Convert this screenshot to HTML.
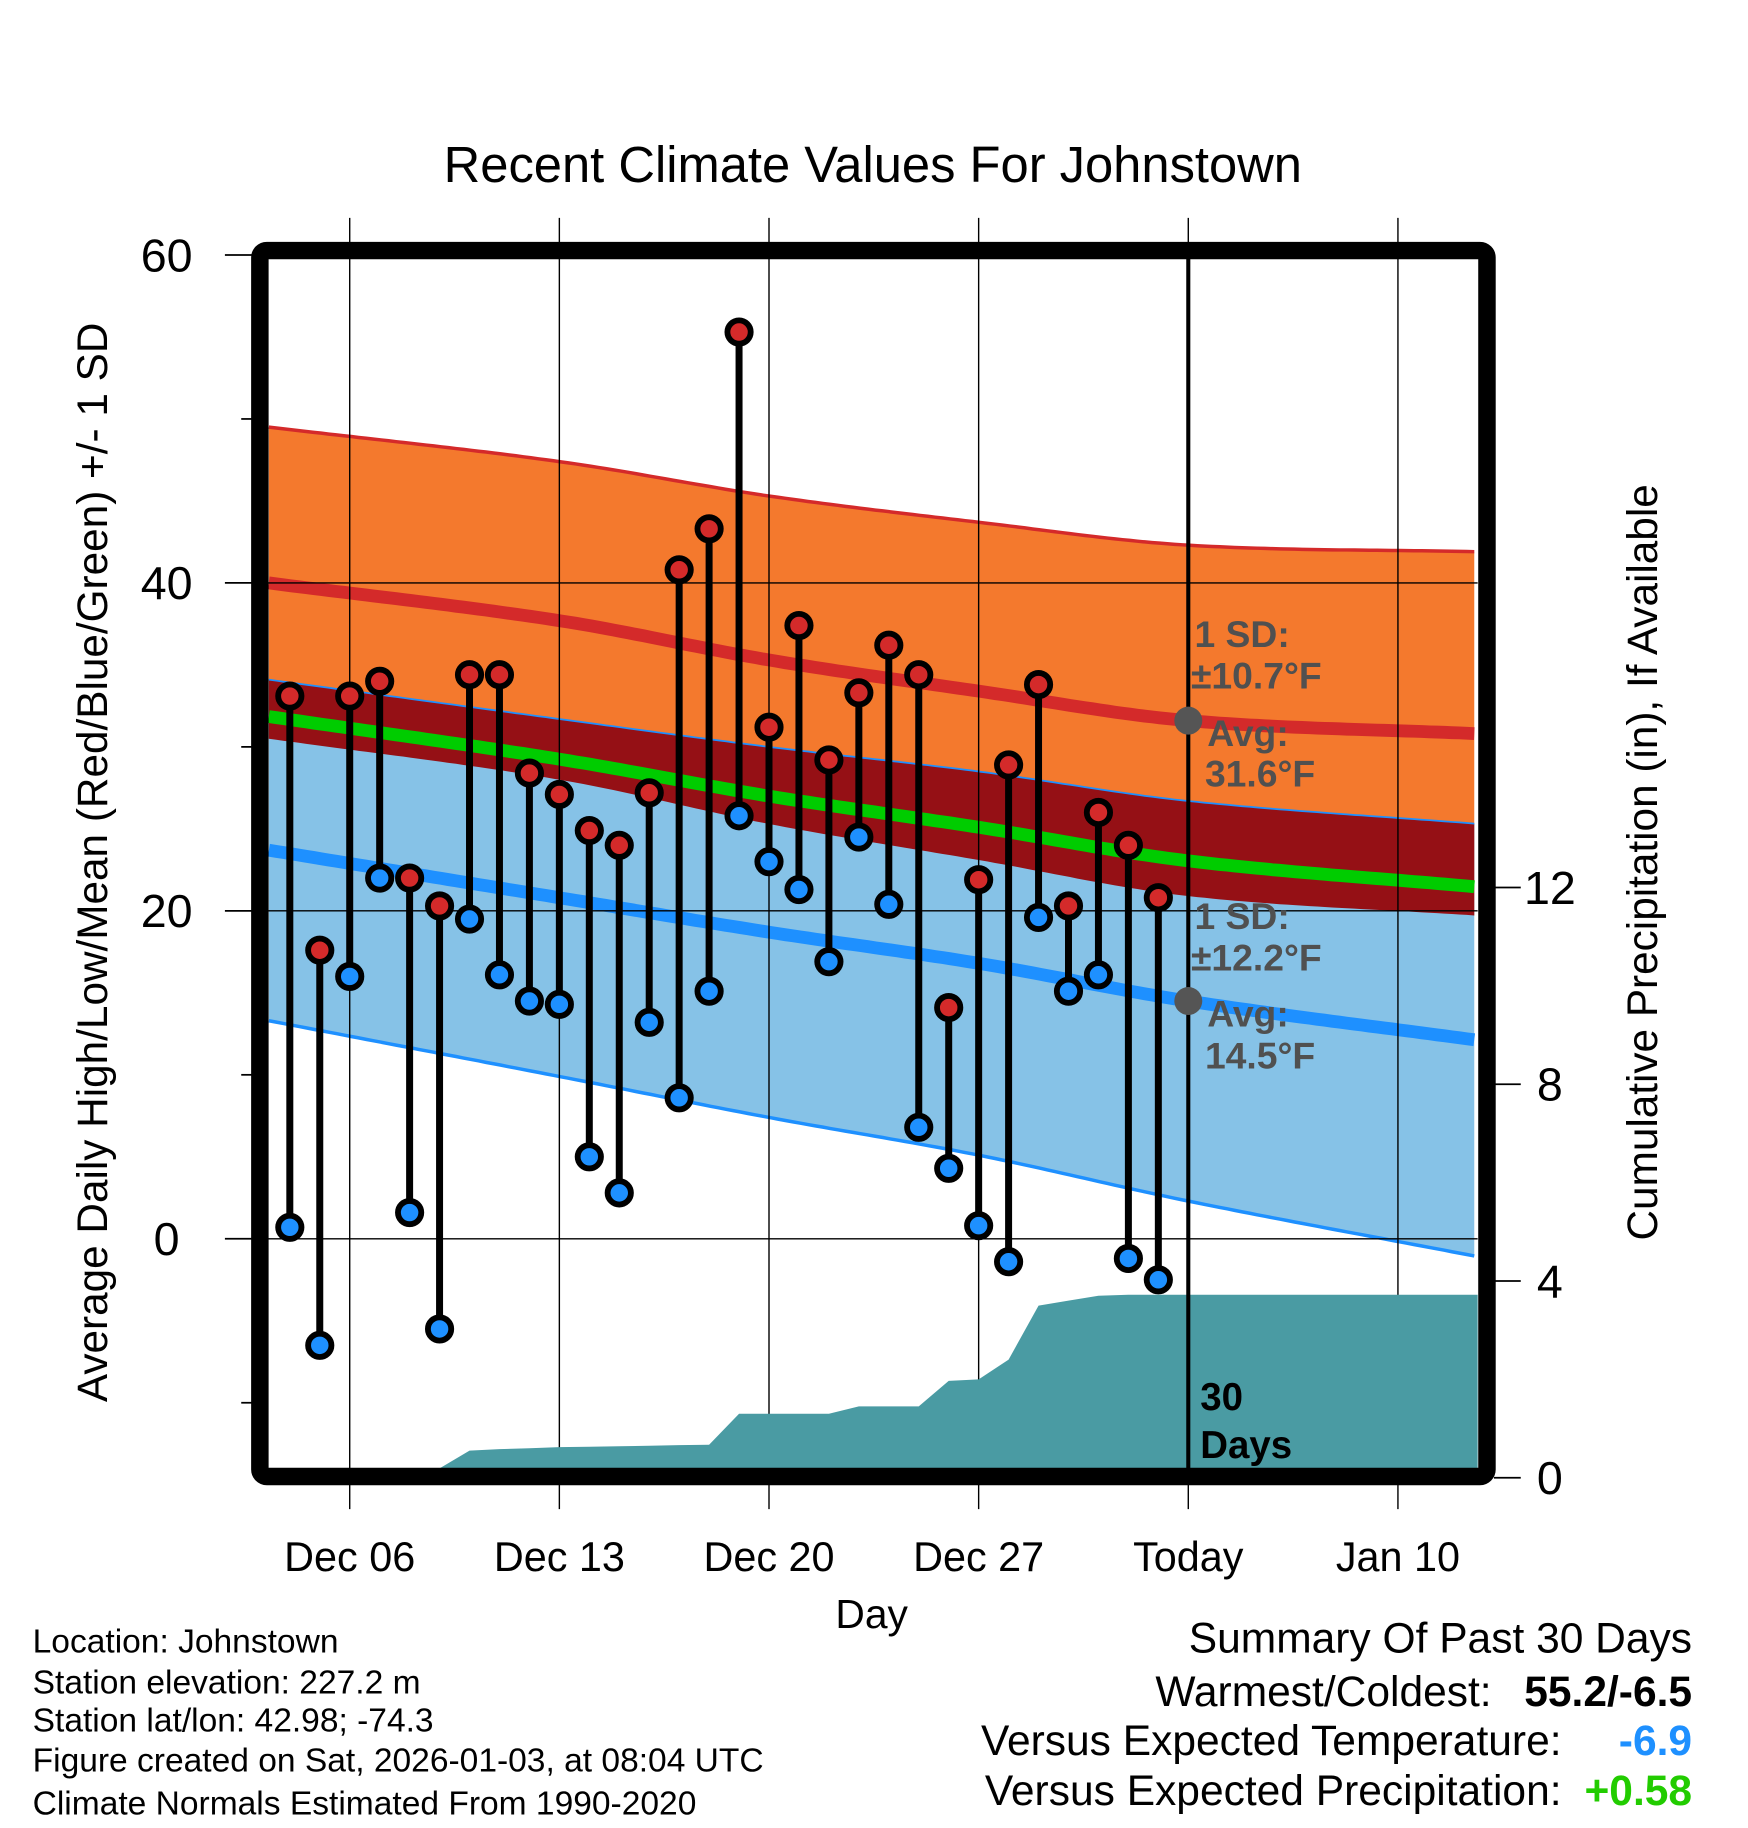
<!DOCTYPE html>
<html><head><meta charset="utf-8"><style>
html,body{margin:0;padding:0;background:#fff;}
svg{display:block;font-family:"Liberation Sans",Arial,sans-serif;}
</style></head><body>
<svg id="chart" width="1748" height="1828" viewBox="0 0 1500 1568.6" preserveAspectRatio="none" xmlns="http://www.w3.org/2000/svg">
<text x="749" y="156" font-size="43.5" text-anchor="middle">Recent Climate Values For Johnstown</text>
<g id="bands"></g>
<g id="grid"></g>
<g id="precip"></g>
<g id="marks"></g>
<g id="ticks"></g>
<text x="748" y="1397" font-size="35" text-anchor="middle">Day</text>
<text transform="translate(92,740) rotate(-90)" font-size="36.3" text-anchor="middle">Average Daily High/Low/Mean (Red/Blue/Green) +/- 1 SD</text>
<text transform="translate(1422,740) rotate(-90)" font-size="36.3" text-anchor="middle">Cumulative Precipitation (in), If Available</text>
<g font-size="28.8">
<text x="28" y="1418">Location: Johnstown</text>
<text x="28" y="1453">Station elevation: 227.2 m</text>
<text x="28" y="1486">Station lat/lon: 42.98; -74.3</text>
<text x="28" y="1520">Figure created on Sat, 2026-01-03, at 08:04 UTC</text>
<text x="28" y="1557">Climate Normals Estimated From 1990-2020</text>
</g>
<g font-size="36.5">
<text x="1452" y="1418" text-anchor="end">Summary Of Past 30 Days</text>
<text x="1280" y="1464" text-anchor="end">Warmest/Coldest:</text>
<text x="1452" y="1464" text-anchor="end" font-weight="bold">55.2/-6.5</text>
<text x="1340" y="1506" text-anchor="end">Versus Expected Temperature:</text>
<text x="1452" y="1506" text-anchor="end" font-weight="bold" fill="#1e90ff">-6.9</text>
<text x="1340" y="1549" text-anchor="end">Versus Expected Precipitation:</text>
<text x="1452" y="1549" text-anchor="end" font-weight="bold" fill="#22cc00">+0.58</text>
</g>
</svg>
<script>
// ---- data ----
const days = [1,2,3,4,5,6,7,8,9,10,11,12,13,14,15,16,17,18,19,20,21,22,23,24,25,26,27,28,29,30];
const highs = [33.1,17.6,33.1,34.0,22.0,20.3,34.4,34.4,28.4,27.1,24.9,24.0,27.2,40.8,43.3,55.3,31.2,37.4,29.2,33.3,36.2,34.4,14.1,21.9,28.9,33.8,20.3,26.0,24.0,20.8];
const lows = [0.7,-6.5,16.0,22.0,1.6,-5.5,19.5,16.1,14.5,14.3,5.0,2.8,13.2,8.6,15.1,25.8,23.0,21.3,16.9,24.5,20.4,6.8,4.3,0.8,-1.4,19.6,15.1,16.1,-1.2,-2.5];
const precip = [0,0,0,0,0,0,0.55,0.58,0.6,0.62,0.63,0.64,0.65,0.66,0.67,1.3,1.3,1.3,1.3,1.45,1.45,1.45,1.97,2.0,2.4,3.5,3.6,3.7,3.72,3.72];
const normalDays = [0.3,10,17,24,31,40.7];
const highMean = [40.0,37.7,35.3,33.4,31.6,30.8];
const highSD = [9.5,9.7,10.0,10.3,10.7,11.1];
const lowMean = [23.7,20.8,18.7,16.8,14.5,12.1];
const lowSD = [10.4,10.9,11.3,11.7,12.2,13.2];
const xTickDays = [3,10,17,24,31,38];
const xTickLabels = ["Dec 06","Dec 13","Dec 20","Dec 27","Today","Jan 10"];
const yTicks = [0,20,40,60];
const yMinor = [-10,10,30,50];
const pTicks = [0,4,8,12];
// ---- axes ----
const X0=223, XS=25.7, L=230, R=1268, T=222, B=1260;
const x = t => X0 + XS*t;
const y = v => 1063 - 14.07*v;
const yp = p => 1268 - 42.2*p;
const NS="http://www.w3.org/2000/svg";
function mk(tag, parent, attrs){const e=document.createElementNS(NS,tag);for(const k in attrs)e.setAttribute(k,attrs[k]);parent.appendChild(e);return e;}
function interp(arr,t){ // Catmull-Rom (non-uniform) through read points
  const n=normalDays.length;
  if(t<=normalDays[0])return arr[0];
  if(t>=normalDays[n-1])return arr[n-1];
  let i=0;while(t>normalDays[i+1])i++;
  const x0=normalDays[i],x1=normalDays[i+1],h=x1-x0,u=(t-x0)/h;
  const slope=k=>{
    if(k===0)return (arr[1]-arr[0])/(normalDays[1]-normalDays[0]);
    if(k===n-1)return (arr[n-1]-arr[n-2])/(normalDays[n-1]-normalDays[n-2]);
    return (arr[k+1]-arr[k-1])/(normalDays[k+1]-normalDays[k-1]);
  };
  const m0=slope(i)*h,m1=slope(i+1)*h;
  const u2=u*u,u3=u2*u;
  return (2*u3-3*u2+1)*arr[i]+(u3-2*u2+u)*m0+(-2*u3+3*u2)*arr[i+1]+(u3-u2)*m1;
}
const ts=[];for(let t=normalDays[0];t<=normalDays[normalDays.length-1]+0.001;t+=0.25)ts.push(Math.min(t,normalDays[normalDays.length-1]));
const f = fn => ts.map(t=>[x(t),y(fn(t))]);
const hm=t=>interp(highMean,t), hs=t=>interp(highSD,t), lm=t=>interp(lowMean,t), ls=t=>interp(lowSD,t);
const hiUp=f(t=>hm(t)+hs(t)), hiLo=f(t=>hm(t)-hs(t)), loUp=f(t=>lm(t)+ls(t)), loLo=f(t=>lm(t)-ls(t));
const pstr = pts => pts.map((p,i)=>(i?'L':'M')+p[0].toFixed(1)+','+p[1].toFixed(1)).join('');
const poly = (a,b) => pstr(a)+pstr(b.slice().reverse()).replace('M','L')+'Z';
const bands=document.getElementById('bands');
let e;
e=mk('path',bands,{d:poly(hiUp,hiLo),fill:'#f4792d'});


e=mk('path',bands,{d:poly(loUp,loLo),fill:'#86c2e7'});


e=mk('path',bands,{d:poly(loUp,hiLo),fill:'#951015'});


e=mk('path',bands,{d:pstr(hiUp),fill:'none',stroke:'#d42a2a','stroke-width':3});


e=mk('path',bands,{d:pstr(loLo),fill:'none',stroke:'#1e90ff','stroke-width':3});


e=mk('path',bands,{d:pstr(loUp),fill:'none',stroke:'#1e90ff','stroke-width':1.5});


e=mk('path',bands,{d:pstr(f(hm)),fill:'none',stroke:'#d42a2a','stroke-width':11});


e=mk('path',bands,{d:pstr(f(lm)),fill:'none',stroke:'#1e90ff','stroke-width':11});


e=mk('path',bands,{d:pstr(f(t=>(hm(t)+lm(t))/2)),fill:'none',stroke:'#00cc00','stroke-width':11});


// grid
const grid=document.getElementById('grid');
xTickDays.forEach((d,i)=>{
  e=mk('line',grid,{x1:x(d),x2:x(d),y1:187,y2:1295,stroke:'#000','stroke-width':1.2});
  
  
  e=mk('text',grid,{x:x(d),y:1348,'font-size':35.5,'text-anchor':'middle'});e.textContent=xTickLabels[i];
  
  
});
yTicks.forEach(v=>{
  if(v<60){e=mk('line',grid,{x1:L,x2:R,y1:y(v),y2:y(v),stroke:'#000','stroke-width':1.2});
  
  }
  e=mk('line',grid,{x1:193,x2:218,y1:y(v),y2:y(v),stroke:'#000','stroke-width':1.5});
  
  
  e=mk('text',grid,{x:143,y:y(v)+14,'font-size':40,'text-anchor':'middle'});e.textContent=v;
  
  
});
yMinor.forEach(v=>{
  e=mk('line',grid,{x1:207,x2:218,y1:y(v),y2:y(v),stroke:'#000','stroke-width':1.5});
  
  
});
pTicks.forEach(p=>{
  e=mk('line',grid,{x1:1282,x2:1305,y1:yp(p),y2:yp(p),stroke:'#000','stroke-width':1.5});
  
  
  e=mk('text',grid,{x:1330,y:yp(p)+14,'font-size':40,'text-anchor':'middle'});e.textContent=p;
  
  
});
// precip area
const pg=document.getElementById('precip');
let pd='M'+L+','+B;
days.forEach((d,i)=>{pd+='L'+x(d).toFixed(1)+','+Math.min(B,yp(precip[i])).toFixed(1);});
pd+='L'+R+','+yp(precip[precip.length-1]).toFixed(1)+'L'+R+','+B+'Z';
e=mk('path',pg,{d:pd,fill:'#4a9ba3'});


// today line
e=mk('line',pg,{x1:x(31),x2:x(31),y1:T,y2:B,stroke:'#000','stroke-width':3.5});


// marks
const mg=document.getElementById('marks');
days.forEach((d,i)=>{
  e=mk('line',mg,{x1:x(d),x2:x(d),y1:y(highs[i]),y2:y(lows[i]),stroke:'#000','stroke-width':6});
  
  
});
days.forEach((d,i)=>{
  e=mk('circle',mg,{cx:x(d),cy:y(highs[i]),r:10,fill:'#d42a2a',stroke:'#000','stroke-width':5});
  
  
  e=mk('circle',mg,{cx:x(d),cy:y(lows[i]),r:10,fill:'#1e90ff',stroke:'#000','stroke-width':5});
  
  
});
// annotations
const todayHi=highMean[4], todayLo=lowMean[4];
e=mk('circle',mg,{cx:x(31),cy:y(todayHi),r:12,fill:'#555'});


e=mk('circle',mg,{cx:x(31),cy:y(todayLo),r:12,fill:'#555'});


function ann(tx,ty,txt,name){const a=mk('text',mg,{x:tx,y:ty,'font-size':32,'font-weight':'bold',fill:'#505050'});a.textContent=txt;
  
  }
ann(1025,555,'1 SD:','high-sd-label');ann(1022,591,'±'+highSD[4].toFixed(1)+'°F','high-sd-value');
ann(1036,640,'Avg:','high-avg-label');ann(1034,675,todayHi.toFixed(1)+'°F','high-avg-value');
ann(1025,797,'1 SD:','low-sd-label');ann(1022,833,'±'+lowSD[4].toFixed(1)+'°F','low-sd-value');
ann(1036,881,'Avg:','low-avg-label');ann(1034,917,todayLo.toFixed(1)+'°F','low-avg-value');
e=mk('text',mg,{x:1030,y:1210,'font-size':33,'font-weight':'bold'});e.textContent='30';


e=mk('text',mg,{x:1030,y:1251,'font-size':33,'font-weight':'bold'});e.textContent='Days';


// frame
e=mk('rect',mg,{x:223,y:215,width:1053,height:1052,rx:6,fill:'none',stroke:'#000','stroke-width':15});


</script>
</body></html>
